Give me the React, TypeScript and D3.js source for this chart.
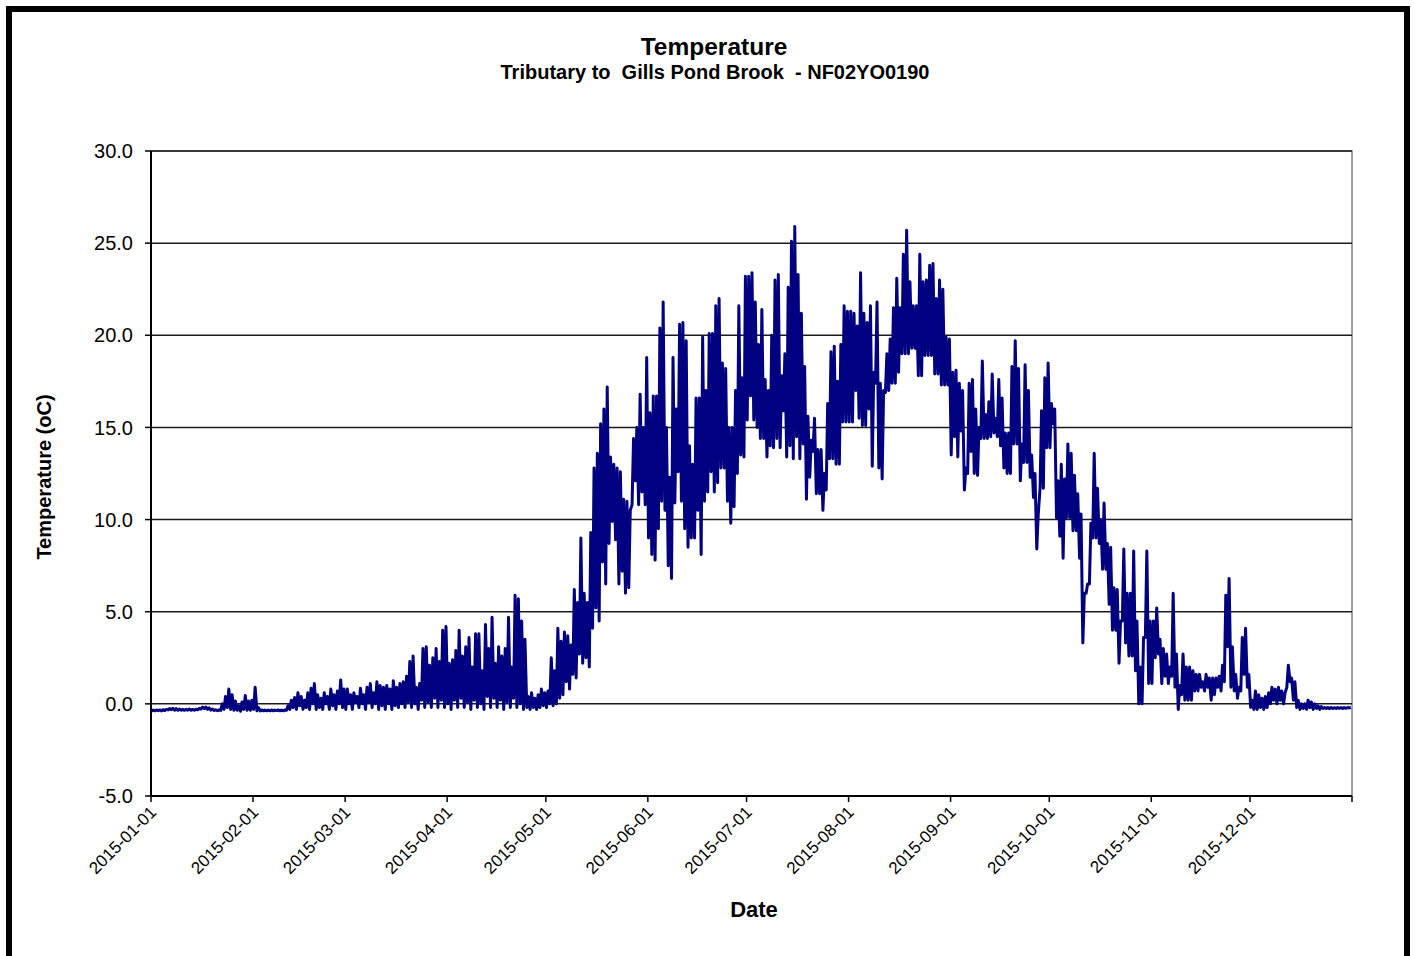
import * as d3 from "d3";

// daily [low, high] water temperature (°C)
const jan: [number, number][] = [
  [-0.38, -0.34], [-0.38, -0.33], [-0.37, -0.33], [-0.38, -0.32], [-0.36, -0.3], [-0.33, -0.25],
  [-0.32, -0.24], [-0.34, -0.26], [-0.35, -0.28], [-0.34, -0.3], [-0.35, -0.3], [-0.34, -0.28],
  [-0.35, -0.3], [-0.34, -0.29], [-0.32, -0.25], [-0.28, -0.18], [-0.26, -0.17], [-0.3, -0.22],
  [-0.34, -0.28], [-0.36, -0.32], [-0.37, -0.33], [-0.35, 0.0], [-0.3, 0.4], [-0.2, 0.8],
  [-0.3, 0.5], [-0.35, 0.15], [-0.35, -0.1], [-0.4, 0.1], [-0.3, 0.45], [-0.35, 0.15], [-0.35, 0.2],
];
const feb: [number, number][] = [
  [-0.3, 0.9], [-0.38, -0.2], [-0.38, -0.33], [-0.38, -0.34], [-0.38, -0.34], [-0.38, -0.33],
  [-0.38, -0.34], [-0.37, -0.33], [-0.38, -0.34], [-0.38, -0.33], [-0.35, -0.1], [-0.3, 0.2],
  [-0.2, 0.35], [-0.3, 0.6], [-0.1, 0.4], [-0.3, 0.2], [-0.2, 0.6], [-0.3, 0.85], [0.0, 1.1],
  [-0.3, 0.5], [-0.2, 0.3], [-0.3, 0.6], [0.0, 0.4], [-0.3, 0.8], [-0.1, 0.5], [-0.3, 0.7],
  [0.0, 1.3], [-0.2, 0.8],
];
const mar: [number, number][] = [
  [-0.3, 0.8], [0.0, 0.5], [-0.3, 0.6], [0.1, 0.4], [-0.2, 0.85], [0.0, 0.5], [-0.3, 0.9],
  [0.1, 1.1], [-0.2, 0.6], [0.0, 1.2], [-0.3, 1.0], [-0.1, 0.9], [-0.3, 1.0], [0.0, 0.8],
  [-0.3, 1.25], [-0.1, 0.9], [-0.2, 1.1], [0.0, 1.2], [-0.2, 1.5], [0.1, 2.3], [-0.2, 2.6],
  [0.0, 0.9], [-0.3, 1.1], [0.2, 3.0], [-0.2, 3.1], [0.1, 2.1], [-0.2, 2.5], [0.3, 3.0],
  [-0.2, 2.3], [0.2, 4.0], [-0.2, 4.2],
];
const apr: [number, number][] = [
  [0.0, 2.2], [-0.3, 2.4], [0.2, 2.9], [-0.2, 4.0], [0.3, 2.6], [-0.2, 3.1], [0.1, 3.6],
  [-0.3, 2.0], [0.2, 3.8], [-0.2, 3.8], [0.0, 1.8], [-0.3, 4.3], [0.4, 3.0], [-0.2, 4.7],
  [0.3, 2.2], [-0.2, 3.1], [0.2, 2.6], [-0.3, 3.0], [0.1, 4.7], [-0.2, 2.0], [0.3, 5.9],
  [-0.2, 5.7], [0.0, 4.5], [-0.3, 3.5], [-0.2, 0.4], [-0.3, 0.6], [-0.2, 0.3], [-0.3, 0.5],
  [-0.2, 0.8], [-0.1, 0.6],
];
const may: [number, number][] = [
  [-0.2, 0.7], [0.0, 2.5], [-0.1, 1.8], [0.0, 4.1], [0.3, 3.4], [0.5, 3.9], [1.2, 3.7],
  [0.8, 3.2], [1.6, 6.2], [1.4, 5.5], [2.7, 9.0], [2.2, 6.0], [2.5, 5.5], [2.0, 9.3],
  [4.1, 12.8], [5.2, 13.6], [4.5, 15.2], [7.7, 16.0], [6.5, 17.2], [8.7, 13.4], [9.9, 13.0],
  [8.9, 12.8], [6.5, 12.6], [7.2, 11.1], [6.0, 11.0], [6.3, 10.5], [10.8, 14.4], [12.1, 15.0],
  [10.8, 16.8], [11.5, 15.0], [10.8, 18.8],
];
const jun: [number, number][] = [
  [9.0, 15.8], [8.1, 16.7], [7.8, 16.7], [9.5, 20.4], [11.0, 21.8], [10.5, 15.0], [7.5, 12.3],
  [6.8, 18.8], [10.9, 16.0], [12.6, 20.6], [11.0, 20.7], [9.5, 19.7], [8.5, 14.0], [9.0, 13.0],
  [9.0, 16.6], [10.5, 16.6], [8.1, 19.9], [11.0, 17.0], [11.5, 20.1], [12.6, 20.1], [11.5, 21.6],
  [12.0, 22.0], [12.8, 18.5], [12.8, 18.2], [11.0, 15.0], [9.8, 15.0], [10.7, 17.0], [12.5, 21.6],
  [13.5, 17.7], [13.4, 23.2],
];
const jul: [number, number][] = [
  [15.4, 23.2], [16.7, 23.4], [15.4, 21.8], [15.0, 19.5], [14.4, 21.4], [14.4, 17.6], [13.4, 17.0],
  [14.0, 20.0], [13.9, 23.0], [14.4, 23.3], [13.9, 17.8], [15.9, 19.0], [13.4, 22.6], [14.0, 25.1],
  [13.3, 25.9], [14.5, 23.3], [13.3, 21.2], [14.1, 18.3], [11.1, 15.6], [12.3, 14.3], [13.7, 15.5],
  [11.4, 13.8], [11.4, 13.8], [10.5, 12.5], [11.6, 16.3], [13.3, 19.1], [13.3, 19.4], [13.0, 17.5],
  [13.0, 19.5], [15.3, 21.6], [15.3, 21.3],
];
const aug: [number, number][] = [
  [15.3, 21.3], [15.3, 21.2], [17.0, 20.5], [15.5, 23.4], [15.1, 21.2], [15.1, 20.7], [16.0, 21.6],
  [12.9, 18.0], [17.4, 21.8], [12.8, 17.4], [12.2, 17.0], [16.9, 19.0], [17.0, 19.8], [17.4, 21.5],
  [17.4, 23.1], [18.0, 21.5], [19.0, 24.4], [19.0, 25.7], [19.0, 22.9], [19.3, 21.6], [19.3, 21.6],
  [17.8, 24.4], [17.8, 22.9], [18.9, 23.0], [18.9, 23.8], [18.9, 23.9], [17.9, 22.0], [17.9, 23.0],
  [17.3, 22.5], [17.3, 19.9], [17.3, 19.8],
];
const sep: [number, number][] = [
  [13.5, 18.0], [14.5, 18.1], [13.4, 17.4], [14.8, 17.0], [11.6, 12.8], [12.5, 17.4], [13.7, 17.6],
  [12.5, 16.0], [12.4, 15.0], [14.4, 18.6], [14.4, 15.7], [14.4, 16.4], [14.5, 17.9], [14.7, 15.5],
  [14.5, 17.6], [14.0, 16.6], [12.8, 14.7], [12.5, 14.7], [12.5, 18.3], [14.1, 19.7], [14.1, 18.2],
  [12.1, 14.1], [13.1, 18.4], [13.1, 17.0], [12.3, 13.5], [11.2, 12.5], [8.4, 10.3], [11.7, 15.9],
  [11.7, 17.7], [13.9, 18.5],
];
const oct: [number, number][] = [
  [13.9, 16.3], [15.2, 16.0], [10.1, 12.1], [9.1, 13.0], [7.9, 12.2], [10.1, 14.1], [10.1, 13.6],
  [9.4, 12.4], [9.4, 11.4], [7.9, 10.3], [3.3, 6.0], [6.0, 6.5], [6.5, 9.8], [9.0, 13.6],
  [9.0, 11.7], [8.7, 10.0], [7.3, 10.9], [7.3, 8.7], [5.4, 8.5], [4.0, 6.3], [4.0, 6.2],
  [2.2, 4.5], [4.5, 8.4], [3.3, 6.0], [2.6, 6.0], [2.6, 8.3], [1.8, 4.5], [0.0, 2.0],
  [0.0, 3.6], [3.6, 8.3], [1.1, 4.5],
];
const nov: [number, number][] = [
  [1.1, 4.5], [2.5, 5.2], [2.7, 3.5], [1.1, 3.0], [1.5, 2.7], [1.1, 2.0], [1.5, 6.0],
  [0.9, 2.7], [-0.3, 1.0], [0.5, 2.7], [0.2, 2.0], [0.2, 2.0], [0.2, 1.8], [0.7, 1.6],
  [0.7, 1.6], [0.9, 1.2], [0.7, 1.6], [0.9, 1.4], [0.2, 1.4], [0.5, 1.4], [0.9, 1.5],
  [0.7, 2.1], [1.2, 5.9], [3.1, 6.8], [0.9, 3.1], [0.7, 1.6], [0.3, 0.9], [0.7, 3.6],
  [1.6, 4.1], [0.9, 1.6],
];
const dec: [number, number][] = [
  [-0.2, 0.2], [-0.3, 0.7], [-0.3, 0.5], [-0.2, 0.3], [-0.3, 0.4], [-0.2, 0.6], [0.0, 0.9],
  [0.2, 0.8], [0.0, 0.9], [0.2, 0.7], [0.0, 0.6], [0.9, 2.1], [1.2, 1.4], [0.2, 1.2],
  [-0.2, 0.2], [-0.3, 0.0], [-0.25, 0.0], [-0.3, 0.2], [-0.2, 0.1], [-0.3, 0.0], [-0.25, -0.1],
  [-0.3, -0.15], [-0.25, -0.2], [-0.25, -0.2], [-0.26, -0.2], [-0.25, -0.21], [-0.25, -0.2],
  [-0.24, -0.2], [-0.25, -0.2], [-0.24, -0.2], [-0.22, -0.2],
];

const yTicks = [-5, 0, 5, 10, 15, 20, 25, 30];

const W = 1415;
const H = 956;
const m = { left: 151, right: 1352, top: 151, bottom: 796 };
const font = "'Liberation Sans', Arial, Helvetica, sans-serif";
const DAY = 86400000;
const t0 = Date.UTC(2015, 0, 1);
const t1 = Date.UTC(2016, 0, 1);

type Pt = { t: Date; v: number };

export default function App() {
  const x = d3.scaleUtc().domain([new Date(t0), new Date(t1)]).range([m.left, m.right]);
  const y = d3.scaleLinear().domain([-5, 30]).range([m.bottom, m.top]);

  const daily = [jan, feb, mar, apr, may, jun, jul, aug, sep, oct, nov, dec].flat();
  const pts: Pt[] = [{ t: new Date(t0), v: daily[0][0] }];
  daily.forEach(([lo, hi], d) => {
    pts.push({ t: new Date(t0 + (d + 0.2) * DAY), v: lo });
    pts.push({ t: new Date(t0 + (d + 0.65) * DAY), v: hi });
  });
  const line = d3.line<Pt>().x((p) => x(p.t)).y((p) => y(p.v));

  const months = d3.utcMonth.range(new Date(t0), new Date(t1));
  const fmt = d3.utcFormat("%Y-%m-%d");

  return (
    <svg width={W} height={H} style={{ position: "absolute", left: 0, top: 0, background: "#fff" }}>
      <rect x={9} y={9} width={1398} height={1000} fill="#fff" stroke="#000" strokeWidth={6} />

      <text x={714} y={55} textAnchor="middle" fontFamily={font} fontWeight="bold" fontSize={24.5}>
        Temperature
      </text>
      <text x={715} y={79} textAnchor="middle" fontFamily={font} fontWeight="bold" fontSize={20} style={{ whiteSpace: "pre" }}>
        {"Tributary to  Gills Pond Brook  - NF02YO0190"}
      </text>

      {/* plot frame */}
      <rect x={m.left} y={m.top} width={m.right - m.left} height={m.bottom - m.top} fill="none" stroke="#808080" strokeWidth={1.5} />

      {/* gridlines */}
      {yTicks.filter((v) => v > -5).map((v) => (
        <line key={`g${v}`} x1={m.left} x2={m.right} y1={y(v)} y2={y(v)} stroke="#1a1a1a" strokeWidth={1.5} />
      ))}

      {/* series */}
      <path d={line(pts) ?? ""} fill="none" stroke="#000080" strokeWidth={3} strokeLinejoin="round" />

      {/* y axis */}
      <line x1={m.left} x2={m.left} y1={m.top} y2={m.bottom} stroke="#000" strokeWidth={2} />
      {yTicks.map((v) => (
        <g key={`y${v}`}>
          <line x1={m.left - 6} x2={m.left} y1={y(v)} y2={y(v)} stroke="#000" strokeWidth={1.5} />
          <text x={133} y={y(v)} dy="0.36em" textAnchor="end" fontFamily={font} fontSize={20}>
            {v.toFixed(1)}
          </text>
        </g>
      ))}

      {/* x axis */}
      <line x1={m.left} x2={m.right} y1={m.bottom} y2={m.bottom} stroke="#000" strokeWidth={2} />
      {[...months, new Date(t1)].map((d) => (
        <line key={`t${+d}`} x1={x(d)} x2={x(d)} y1={m.bottom} y2={m.bottom + 6} stroke="#000" strokeWidth={1.5} />
      ))}
      {months.map((d) => (
        <text
          key={`l${+d}`}
          transform={`translate(${x(d) - 2},${m.bottom + 9}) rotate(-45)`}
          textAnchor="end"
          dy="0.7em"
          fontFamily={font}
          fontSize={17}
        >
          {fmt(d)}
        </text>
      ))}

      <text x={754} y={917} textAnchor="middle" fontFamily={font} fontWeight="bold" fontSize={22}>
        Date
      </text>
      <text
        transform={`translate(51,477) rotate(-90)`}
        textAnchor="middle"
        fontFamily={font}
        fontWeight="bold"
        fontSize={20}
      >
        Temperature (oC)
      </text>
    </svg>
  );
}
